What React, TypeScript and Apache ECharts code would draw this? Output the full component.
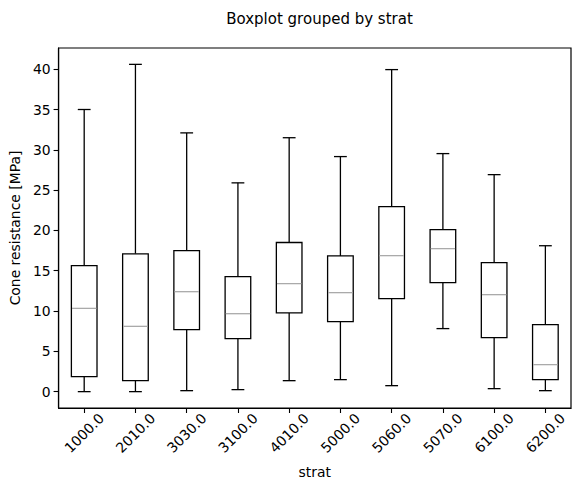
import React, { useEffect, useRef } from "react";
import * as echarts from "echarts";

const categories = ["1000.0", "2010.0", "3030.0", "3100.0", "4010.0", "5000.0", "5060.0", "5070.0", "6100.0", "6200.0"];
const whiskerLow = [0.0, 0.0, 0.12, 0.25, 1.36, 1.49, 0.74, 7.82, 0.37, 0.12];
const q1 = [1.86, 1.36, 7.7, 6.57, 9.76, 8.68, 11.54, 13.52, 6.7, 1.49];
const median = [10.33, 8.1, 12.4, 9.67, 13.4, 12.28, 16.87, 17.74, 12.03, 3.35];
const q3 = [15.63, 17.1, 17.5, 14.27, 18.5, 16.83, 22.95, 20.1, 16.0, 8.31];
const whiskerHigh = [35.0, 40.6, 32.1, 25.9, 31.5, 29.16, 39.95, 29.53, 26.92, 18.1];
const yTicks = [0, 5, 10, 15, 20, 25, 30, 35, 40];

const FONT = "DejaVu Sans";

export default function App() {
  const ref = useRef<HTMLDivElement>(null);
  useEffect(() => {
    if (!ref.current) return;
    const chart = echarts.init(ref.current, null, { renderer: "svg" });
    const data = categories.map((_, i) => [i, whiskerLow[i], q1[i], median[i], q3[i], whiskerHigh[i]]);
    const LW = 1.3;
    chart.setOption({
      animation: false,
      backgroundColor: "#ffffff",
      title: {
        text: "Boxplot grouped by strat",
        left: 314.5,
        top: 6,
        textAlign: "center",
        textStyle: { fontFamily: FONT, fontSize: 15, fontWeight: "normal", color: "#000" },
      },
      grid: {
        left: 58,
        right: 8,
        top: 48,
        bottom: 84,
        show: true,
        borderColor: "#000",
        borderWidth: 1.2,
        backgroundColor: "transparent",
      },
      xAxis: {
        type: "category",
        data: categories,
        boundaryGap: true,
        name: "strat",
        nameLocation: "middle",
        nameGap: 57,
        nameTextStyle: { fontFamily: FONT, fontSize: 13.9, color: "#000", verticalAlign: "top" },
        axisLine: { show: true, onZero: false, lineStyle: { color: "#000", width: 1.2 } },
        axisTick: { show: true, alignWithLabel: true, length: 5, lineStyle: { color: "#000", width: 1.1 } },
        axisLabel: {
          interval: 0,
          rotate: 45,
          align: "center",
          verticalAlign: "middle",
          margin: 25,
          fontFamily: FONT,
          fontSize: 13.9,
          color: "#000",
        },
        splitLine: { show: false },
      },
      yAxis: {
        type: "value",
        min: -2.03,
        max: 42.63,
        name: "Cone resistance [MPa]",
        nameLocation: "middle",
        nameGap: 33,
        nameTextStyle: { fontFamily: FONT, fontSize: 13.9, color: "#000" },
        axisLine: { show: true, lineStyle: { color: "#000", width: 1.2 } },
        axisTick: { show: true, length: 5, customValues: yTicks, lineStyle: { color: "#000", width: 1.1 } },
        axisLabel: { customValues: yTicks, margin: 8, fontFamily: FONT, fontSize: 13.9, color: "#000" },
        splitLine: { show: false },
      },
      series: [
        {
          type: "custom",
          data,
          encode: { x: 0, y: [1, 2, 3, 4, 5] },
          renderItem: (params: any, api: any) => {
            const x = api.value(0);
            const lo = api.coord([x, api.value(1)]);
            const b1 = api.coord([x, api.value(2)]);
            const md = api.coord([x, api.value(3)]);
            const b3 = api.coord([x, api.value(4)]);
            const hi = api.coord([x, api.value(5)]);
            const cx = lo[0];
            const w = api.size([1, 0])[0] * 0.5;
            const cw = w / 2;
            const stroke = { stroke: "#000", lineWidth: LW, fill: "none" };
            return {
              type: "group",
              children: [
                { type: "line", shape: { x1: cx, y1: b3[1], x2: cx, y2: hi[1] }, style: stroke },
                { type: "line", shape: { x1: cx, y1: b1[1], x2: cx, y2: lo[1] }, style: stroke },
                { type: "line", shape: { x1: cx - cw / 2, y1: hi[1], x2: cx + cw / 2, y2: hi[1] }, style: stroke },
                { type: "line", shape: { x1: cx - cw / 2, y1: lo[1], x2: cx + cw / 2, y2: lo[1] }, style: stroke },
                { type: "rect", shape: { x: cx - w / 2, y: b3[1], width: w, height: b1[1] - b3[1] }, style: { ...stroke, fill: "#fff" } },
                { type: "line", shape: { x1: cx - w / 2 + 0.6, y1: md[1], x2: cx + w / 2 - 0.6, y2: md[1] }, style: { stroke: "#aaaaaa", lineWidth: LW } },
              ],
            };
          },
        },
      ],
    });
    return () => chart.dispose();
  }, []);
  return <div ref={ref} style={{ position: "fixed", left: 0, top: 0, width: 579, height: 492 }} />;
}
